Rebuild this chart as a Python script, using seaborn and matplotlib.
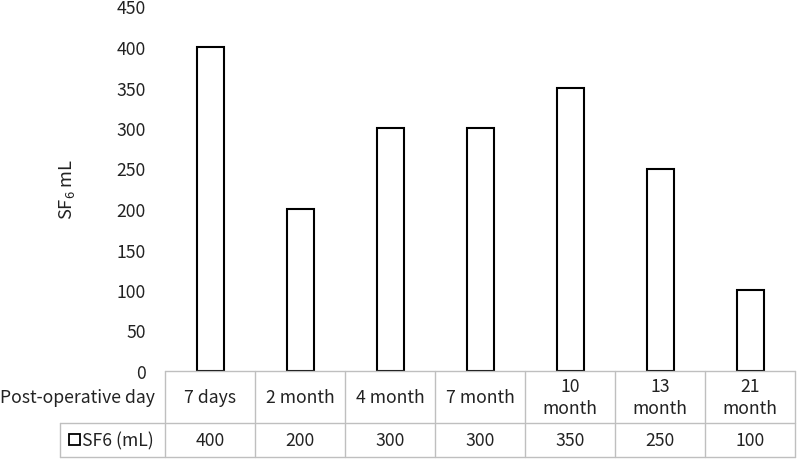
import matplotlib as mpl
import matplotlib.pyplot as plt
from matplotlib.patches import Rectangle
import matplotlib.transforms as mtransforms
import numpy as np
import pandas as pd
import seaborn as sns

# data
days = ["7 days", "2 month", "4 month", "7 month", "10\nmonth", "13\nmonth", "21\nmonth"]
sf6_ml = [400, 200, 300, 300, 350, 250, 100]
y_ticks = [0, 50, 100, 150, 200, 250, 300, 350, 400, 450]

sns.set_style("white")
plt.rcParams["font.family"] = ["Noto Sans CJK JP", "DejaVu Sans"]
plt.rcParams["mathtext.default"] = "regular"

FS = 12.7
TXT = "#222222"

W, H = 797, 460
fig = plt.figure(figsize=(W / 100, H / 100), dpi=100)
x0, x1, y0, y1 = 165, 795, 372, 7.5
ax = fig.add_axes([x0 / W, 1 - y0 / H, (x1 - x0) / W, (y0 - y1) / H])

df = pd.DataFrame({"day": days, "ml": sf6_ml})
sns.barplot(data=df, x="day", y="ml", ax=ax, color="white",
            edgecolor="black", linewidth=1.5, width=0.3, saturation=1)

ax.set_ylim(0, 450)
ax.set_xlim(-0.5, len(days) - 0.5)
ax.set_yticks(y_ticks)
ax.tick_params(axis="y", length=0, pad=14, labelsize=FS, colors=TXT)
ax.set_xticks([])
ax.set_xlabel("")
ax.set_ylabel("SF$_{6}$ mL", fontsize=FS + 0.5, color=TXT)
ax.yaxis.set_label_coords((67 - x0) / (x1 - x0), 0.5)
ax.yaxis.label.set_va("center")
for s in ax.spines.values():
    s.set_visible(False)

# data table under the chart
grid = "#bfbfbf"
trans = mtransforms.blended_transform_factory(ax.transData, ax.transAxes)
px = 1.0 / (y0 - y1)
r0, r1, r2 = 0.0, -(424 - y0) * px, -(458 - y0) * px
left_col = -0.5 - (x0 - 60) / ((x1 - x0) / len(days))
n = len(days)

kw = dict(transform=trans, color=grid, lw=1.0, clip_on=False)
ax.plot([-0.5, n - 0.5], [r0, r0], **kw)
ax.plot([left_col, n - 0.5], [r1, r1], **kw)
ax.plot([left_col, n - 0.5], [r2, r2], **kw)
for i in range(n + 1):
    ax.plot([i - 0.5, i - 0.5], [r0, r2], **kw)
ax.plot([left_col, left_col], [r1, r2], **kw)

for i, (d, v) in enumerate(zip(days, sf6_ml)):
    ax.text(i, (r0 + r1) / 2, d, transform=trans, ha="center", va="center",
            fontsize=FS, color=TXT, linespacing=1.35)
    ax.text(i, (r1 + r2) / 2, str(v), transform=trans, ha="center", va="center",
            fontsize=FS, color=TXT)

ax.text(-0.5 - 10 / 90, (r0 + r1) / 2, "Post-operative day", transform=trans,
        ha="right", va="center", fontsize=FS, color=TXT)
ax.text(left_col + 22 / 90, (r1 + r2) / 2, "SF6 (mL)", transform=trans,
        ha="left", va="center", fontsize=FS, color=TXT)
ax.add_patch(Rectangle((left_col + 9 / 90, (r1 + r2) / 2 - 5 * px), 11 / 90, 11 * px,
                       transform=trans, facecolor="white", edgecolor="black",
                       lw=1.3, clip_on=False))

fig.savefig("out.png", dpi=100)
